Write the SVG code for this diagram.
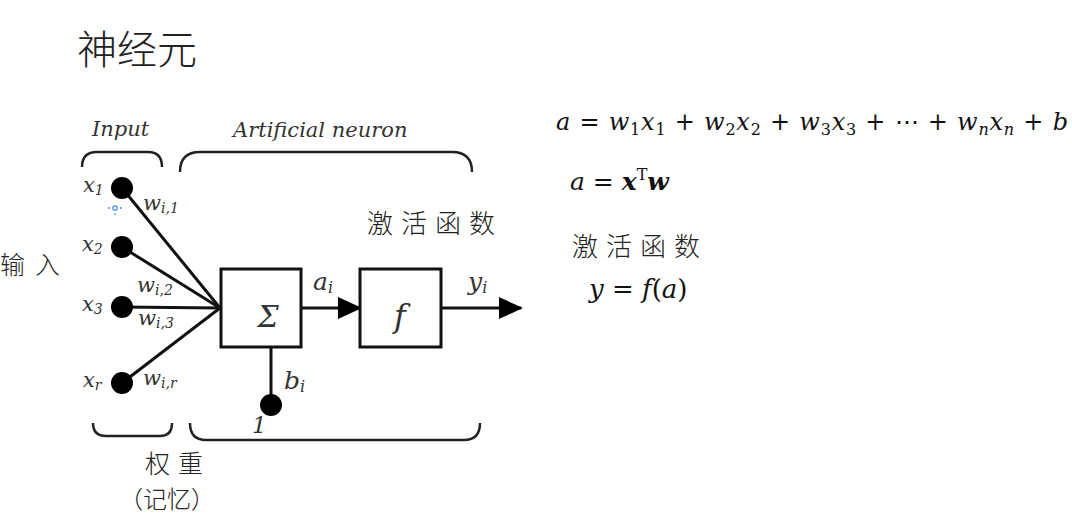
<svg xmlns="http://www.w3.org/2000/svg" width="1072" height="515" viewBox="0 0 1072 515">
<defs>
<style>
.cjk{font-family:"Noto Sans CJK SC","Noto Sans",sans-serif;fill:#222;}
.it{font-family:"DejaVu Serif","Liberation Serif",serif;font-style:italic;fill:#333;}
.m{font-family:"DejaVu Serif","Liberation Serif",serif;fill:#111;}
.ln{stroke:#111;stroke-width:3;fill:none;}
.br{stroke:#222;stroke-width:2.5;fill:none;}
.box{stroke:#111;stroke-width:3;fill:#fff;}
.dot{fill:#000;}
</style>
<marker id="ah" viewBox="0 0 24 22" refX="22" refY="11" markerWidth="24" markerHeight="22" markerUnits="userSpaceOnUse" orient="auto">
<path d="M0,0 L24,11 L0,22 z" fill="#000"/>
</marker>
</defs>
<rect width="1072" height="515" fill="#fff"/>
<text class="cjk" x="77" y="64" font-size="40" font-weight="300">神经元</text>

<g id="brackets">
<text class="it" x="92" y="136" font-size="21">Input</text>
<path class="br" d="M82,167 Q82,152 97,152 L148,152 Q162,152 162,167"/>
<text class="it" x="233" y="137" font-size="21">Artificial neuron</text>
<path class="br" d="M180,172 Q180,152 200,152 L452,152 Q472,152 472,172"/>
<path class="br" d="M93,423 Q93,436 106,436 L160,436 Q172,436 172,423"/>
<path class="br" d="M190,423 Q190,440 206,440 L464,440 Q480,440 480,423"/>
</g>

<g id="connectors">
<line class="ln" x1="122" y1="188" x2="220" y2="308"/>
<line class="ln" x1="122" y1="247" x2="220" y2="308"/>
<line class="ln" x1="122" y1="307" x2="220" y2="308"/>
<line class="ln" x1="122" y1="383" x2="220" y2="308"/>
<line class="ln" x1="271" y1="347" x2="271" y2="404"/>
<line class="ln" x1="301" y1="308" x2="360" y2="308" marker-end="url(#ah)"/>
<line class="ln" x1="441" y1="308" x2="521" y2="308" marker-end="url(#ah)"/>
</g>

<g id="x1"><circle class="dot" cx="122" cy="188" r="11"/>
<text class="it" x="83" y="192" font-size="21">x<tspan font-size="14" dy="3">1</tspan></text>
<text class="it" x="143" y="210" font-size="21">w<tspan font-size="14" dy="3">i,1</tspan></text></g>
<g id="cursor" stroke="#4a90e2" fill="none" stroke-width="1.3">
<circle cx="115" cy="208" r="2.2"/>
<path d="M108,208 h2 M120,208 h2 M115,213 v2"/>
</g>
<g id="x2"><circle class="dot" cx="122" cy="247" r="11"/>
<text class="it" x="82" y="251" font-size="21">x<tspan font-size="14" dy="3">2</tspan></text>
<text class="it" x="137" y="292" font-size="21">w<tspan font-size="14" dy="3">i,2</tspan></text></g>
<g id="x3"><circle class="dot" cx="122" cy="307" r="11"/>
<text class="it" x="82" y="311" font-size="21">x<tspan font-size="14" dy="3">3</tspan></text>
<text class="it" x="138" y="325" font-size="21">w<tspan font-size="14" dy="3">i,3</tspan></text></g>
<g id="xr"><circle class="dot" cx="122" cy="383" r="11"/>
<text class="it" x="83" y="387" font-size="21">x<tspan font-size="14" dy="3">r</tspan></text>
<text class="it" x="143" y="385" font-size="21">w<tspan font-size="14" dy="3">i,r</tspan></text></g>

<g id="sum"><rect class="box" x="221" y="269" width="80" height="78"/>
<text class="it" x="268" y="327" font-size="30" text-anchor="middle">Σ</text></g>
<g id="act"><rect class="box" x="360" y="269" width="81" height="78"/>
<text class="it" x="400" y="327" font-size="32" text-anchor="middle">f</text></g>
<g id="bias"><circle class="dot" cx="271" cy="405" r="11"/>
<text class="it" x="284" y="389" font-size="25">b<tspan font-size="16" dy="3">i</tspan></text>
<text class="it" x="252" y="433" font-size="23">1</text></g>
<text class="it" x="313" y="290" font-size="25">a<tspan font-size="16" dy="3">i</tspan></text>
<text class="it" x="468" y="290" font-size="25">y<tspan font-size="16" dy="3">i</tspan></text>

<text class="cjk" x="367" y="233" font-size="26" font-weight="300" letter-spacing="8">激活函数</text>
<text class="cjk" x="0" y="274" font-size="25" font-weight="300" letter-spacing="10">输入</text>
<text class="cjk" x="145" y="473" font-size="25" font-weight="300" letter-spacing="8">权重</text>
<text class="cjk" x="119" y="508" font-size="24" font-weight="300">（记忆）</text>

<g id="formulas">
<text class="m" x="556" y="130" font-size="24" textLength="512" lengthAdjust="spacing"><tspan font-style="italic">a</tspan> = <tspan font-style="italic">w</tspan><tspan font-size="16" dy="5">1</tspan><tspan font-style="italic" dy="-5">x</tspan><tspan font-size="16" dy="5">1</tspan><tspan dy="-5"> + </tspan><tspan font-style="italic">w</tspan><tspan font-size="16" dy="5">2</tspan><tspan font-style="italic" dy="-5">x</tspan><tspan font-size="16" dy="5">2</tspan><tspan dy="-5"> + </tspan><tspan font-style="italic">w</tspan><tspan font-size="16" dy="5">3</tspan><tspan font-style="italic" dy="-5">x</tspan><tspan font-size="16" dy="5">3</tspan><tspan dy="-5"> + ⋯ + </tspan><tspan font-style="italic">w</tspan><tspan font-size="16" font-style="italic" dy="5">n</tspan><tspan font-style="italic" dy="-5">x</tspan><tspan font-size="16" font-style="italic" dy="5">n</tspan><tspan dy="-5"> + </tspan><tspan font-style="italic">b</tspan></text>
<text class="m" x="570" y="190" font-size="25"><tspan font-style="italic">a</tspan> = <tspan font-style="italic" font-weight="bold">x</tspan><tspan font-size="16" dy="-10">T</tspan><tspan font-style="italic" font-weight="bold" dy="10">w</tspan></text>
<text class="cjk" x="572" y="256" font-size="26" font-weight="300" letter-spacing="8">激活函数</text>
<text class="m" x="589" y="298" font-size="26"><tspan font-style="italic">y</tspan> = <tspan font-style="italic">f</tspan>(<tspan font-style="italic">a</tspan>)</text>
</g>
</svg>
